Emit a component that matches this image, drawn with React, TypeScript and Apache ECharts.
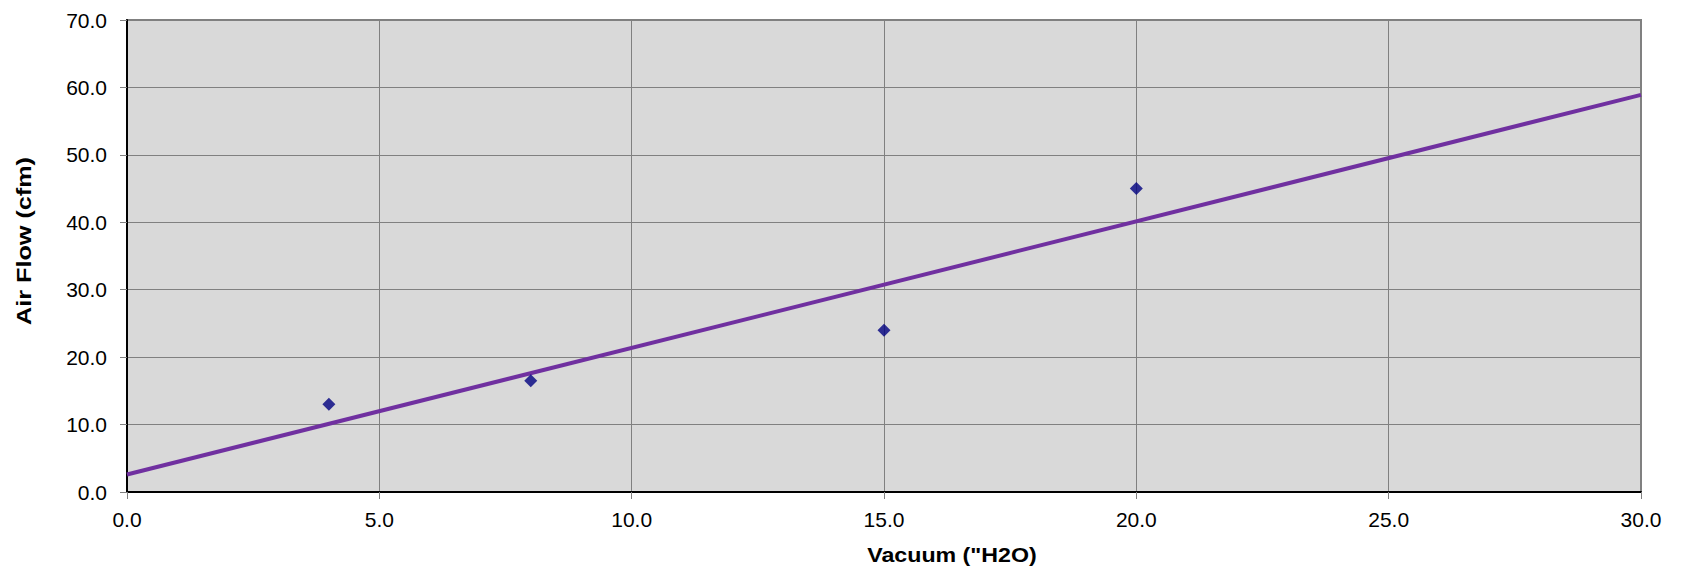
import React, { useEffect, useRef } from "react";
import * as echarts from "echarts";

const vacuumX = [4, 8, 15, 20];
const airFlowY = [13.0, 16.5, 24.0, 45.0];
const trendX = [0, 30];
const trendY = [2.6, 58.9];
const xTitle = 'Vacuum ("H2O)';
const yTitle = "Air Flow (cfm)";

export default function App() {
  const ref = useRef<HTMLDivElement>(null);
  useEffect(() => {
    if (!ref.current) return;
    const chart = echarts.init(ref.current, null, { renderer: "svg" });
    const font = "Liberation Sans, Arial, sans-serif";
    chart.setOption({
      animation: false,
      backgroundColor: "#ffffff",
      grid: {
        left: 127,
        top: 20,
        right: 43,
        bottom: 88,
        show: true,
        backgroundColor: "#d9d9d9",
        borderColor: "#808080",
        borderWidth: 2,
      },
      xAxis: {
        type: "value",
        min: 0,
        max: 30,
        interval: 5,
        axisLine: { show: true, lineStyle: { color: "#000000", width: 2 } },
        axisTick: { show: true, length: 7, lineStyle: { color: "#808080" } },
        axisLabel: {
          color: "#000000",
          fontSize: 21,
          fontFamily: font,
          margin: 17,
          formatter: (v: number) => v.toFixed(1),
        },
        splitLine: { show: true, lineStyle: { color: "#808080", width: 1 } },
      },
      yAxis: {
        type: "value",
        min: 0,
        max: 70,
        interval: 10,
        axisLine: { show: true, lineStyle: { color: "#000000", width: 2 } },
        axisTick: { show: true, length: 7, lineStyle: { color: "#808080" } },
        axisLabel: {
          color: "#000000",
          fontSize: 21,
          fontFamily: font,
          margin: 20,
          formatter: (v: number) => v.toFixed(1),
        },
        splitLine: { show: true, lineStyle: { color: "#808080", width: 1 } },
      },
      graphic: [
        {
          type: "text",
          x: 952,
          y: 555,
          scaleX: 1.16,
          style: {
            text: xTitle,
            fontSize: 20,
            fontWeight: "bold",
            fontFamily: font,
            fill: "#000000",
            align: "center",
            verticalAlign: "middle",
            textAlign: "center",
            textVerticalAlign: "middle",
          },
        },
        {
          type: "text",
          x: 24,
          y: 241,
          rotation: Math.PI / 2,
          scaleX: 1.2,
          style: {
            text: yTitle,
            fontSize: 21,
            fontWeight: "bold",
            fontFamily: font,
            fill: "#000000",
            align: "center",
            verticalAlign: "middle",
            textAlign: "center",
            textVerticalAlign: "middle",
          },
        },
      ],
      series: [
        {
          type: "line",
          data: trendX.map((x, i) => [x, trendY[i]]),
          showSymbol: false,
          symbol: "none",
          lineStyle: { color: "#7030a0", width: 4 },
          z: 3,
        },
        {
          type: "scatter",
          data: vacuumX.map((x, i) => [x, airFlowY[i]]),
          symbol: "diamond",
          symbolSize: 13,
          itemStyle: { color: "#000080" },
          z: 4,
        },
      ],
    });
    return () => chart.dispose();
  }, []);
  return (
    <div
      ref={ref}
      style={{ position: "fixed", left: 0, top: 0, width: 1684, height: 580 }}
    />
  );
}
